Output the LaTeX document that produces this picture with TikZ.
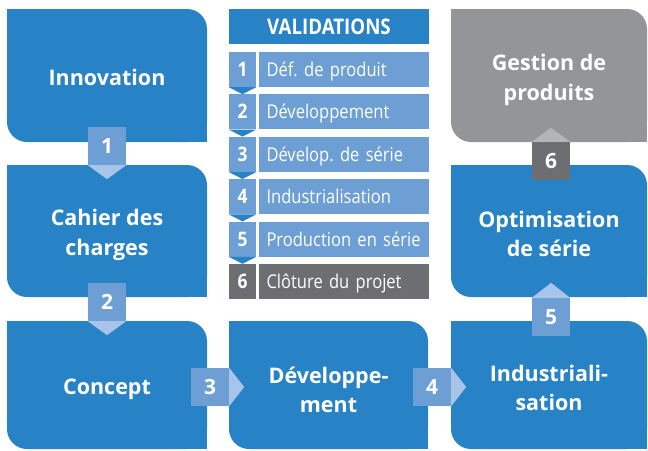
\documentclass[tikz,border=0pt]{standalone}
\usepackage{fontspec}
\setmainfont{Open Sans}
\newfontfamily\condfont{Open Sans}[FakeStretch=0.87]
\frenchspacing
\definecolor{mainblue}{RGB}{40,130,198}
\definecolor{rowblue}{RGB}{109,159,212}
\definecolor{tipblue}{RGB}{168,196,232}
\definecolor{boxgray}{RGB}{147,149,152}
\definecolor{darkgray}{RGB}{109,110,113}
\definecolor{tipgray}{RGB}{180,181,184}
\tikzset{
  bigbox/.style={fill=mainblue, rounded corners=20pt, minimum width=200pt, minimum height=133pt,
    inner sep=0pt},
  boxlabel/.style={inner sep=0pt, text=white, align=center, font=\fontsize{21.5}{29.5}\selectfont\bfseries},
  badge/.style={fill=rowblue, minimum size=38pt, inner sep=0pt, text=white,
    text height=15pt, text depth=0pt, font=\fontsize{21}{21}\selectfont\bfseries},
  numcell/.style={fill=rowblue, minimum width=27pt, minimum height=35pt, inner sep=0pt, text=white,
    text height=14pt, text depth=0pt, font=\fontsize{20}{20}\selectfont\condfont\bfseries},
  rowcell/.style={fill=rowblue, minimum height=35pt, inner xsep=8pt, inner ysep=0pt,
    text width=154.5pt, align=left, text=white, text height=14pt, text depth=0pt,
    font=\fontsize{19}{19}\selectfont\condfont},
}
\begin{document}
\begin{tikzpicture}[x=1pt,y=-1pt]
\useasboundingbox (0,0) rectangle (648,450);

% main boxes
\node[bigbox] (innov) at (107,75.5) {};
\node[bigbox, minimum height=132pt] (cahier) at (107,231) {};
\node[bigbox, minimum height=128pt] (concept) at (107,385) {};
\node[bigbox, minimum width=199pt, minimum height=128pt] (devel) at (328.5,385) {};
\node[bigbox, minimum width=196pt, minimum height=128pt] (indus) at (549,385) {};
\node[bigbox, minimum width=196pt, minimum height=132pt] (optim) at (549,231) {};
\node[bigbox, fill=boxgray, minimum width=196pt] (gest) at (549,75.5) {};

% square corners
\foreach \b in {innov,cahier,concept,devel,indus,optim}{
  \fill[mainblue] (\b.north west) rectangle ++(25,25);
  \fill[mainblue] (\b.south east) rectangle ++(-25,-25);
}
\fill[boxgray] (gest.north west) rectangle ++(25,25);
\fill[boxgray] (gest.south east) rectangle ++(-25,-25);

% box labels
\node[boxlabel] (innovT) at ([yshift=-2pt]innov.center) {Innovation};
\node[boxlabel] (cahierT) at ([yshift=-4pt]cahier.center) {Cahier des\\charges};
\node[boxlabel] (conceptT) at ([yshift=-4pt]concept.center) {Concept};
\node[boxlabel] (develT) at ([yshift=-5pt]devel.center) {Développe-\\ment};
\node[boxlabel] (indusT) at ([yshift=-3pt]indus.center) {Industriali-\\sation};
\node[boxlabel] (optimT) at ([yshift=-3pt]optim.center) {Optimisation\\de série};
\node[boxlabel] (gestT) at ([yshift=-4.5pt]gest.center) {Gestion de\\produits};

% badges
\node[badge] (b1) at (107,146) {1};
\fill[tipblue] (b1.south west) -- (b1.south east) -- ([yshift=-14pt]b1.south) -- cycle;
\node[badge] (b2) at (107,302) {2};
\fill[tipblue] (b2.south west) -- (b2.south east) -- ([yshift=-14pt]b2.south) -- cycle;
\node[badge] (b3) at (210,387) {3};
\fill[tipblue] (b3.north east) -- (b3.south east) -- ([xshift=15pt]b3.east) -- cycle;
\node[badge] (b4) at (432,387) {4};
\fill[tipblue] (b4.north east) -- (b4.south east) -- ([xshift=15pt]b4.east) -- cycle;
\node[badge] (b5) at (551,317) {5};
\fill[tipblue] (b5.north west) -- (b5.north east) -- ([yshift=15pt]b5.north) -- cycle;
\node[badge, fill=darkgray] (b6) at (551,161) {6};
\fill[tipgray] (b6.north west) -- (b6.north east) -- ([yshift=14pt]b6.north) -- cycle;

% validations panel
\node[fill=mainblue, minimum width=200pt, minimum height=35pt, inner sep=0pt, text=white,
  text height=15pt, text depth=0pt, font=\fontsize{21.5}{21.5}\selectfont\condfont\bfseries]
  (hdr) at (329,26.5) {VALIDATIONS};
\foreach \i/\t/\lab in {1/69.5/{Déf. de produit},2/111.9/{Développement},3/154.3/{Dévelop. de série},
  4/196.7/{Industrialisation},5/239.1/{Production en série}}{
  \node[numcell] (n\i) at (242.5,\t) {\i};
  \node[rowcell] (r\i) at (343.75,\t) {\lab};
  \fill[mainblue] (n\i.south west) -- (n\i.south east) -- ([yshift=-7pt]n\i.south) -- cycle;
}
\node[numcell, fill=darkgray] (n6) at (242.5,281.5) {6};
\node[rowcell, fill=darkgray] (r6) at (343.75,281.5) {Clôture du projet};
\end{tikzpicture}
\end{document}
